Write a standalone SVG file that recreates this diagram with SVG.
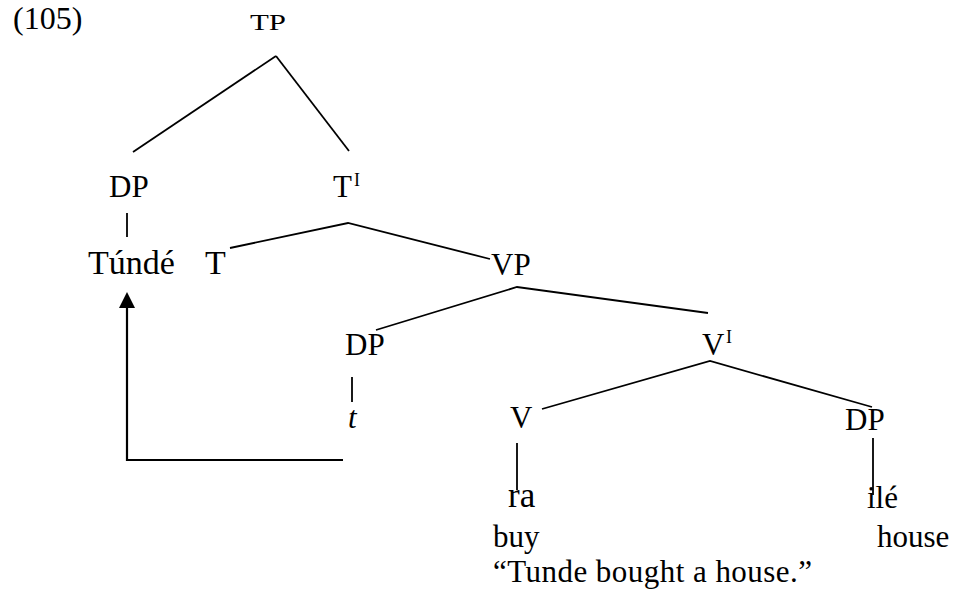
<svg xmlns="http://www.w3.org/2000/svg" width="956" height="592" viewBox="0 0 956 592">
<style>
text{font-family:"Liberation Serif","Times New Roman",serif;fill:#000;font-size:31px}
.sup{font-size:18px}
.big{font-size:34px}
.edge{stroke:#000;stroke-width:1.8;fill:none}
.mv{stroke:#000;stroke-width:2.2;fill:none}
</style>
<rect width="956" height="592" fill="#fff"/>
<g id="label"><text x="13" y="29" style="font-size:32px">(105)</text></g>
<g id="connectors">
<line class="edge" x1="276" y1="56" x2="133" y2="152"/>
<line class="edge" x1="276" y1="56" x2="349" y2="151"/>
<line class="edge" x1="127" y1="213" x2="127" y2="237"/>
<polyline class="edge" points="230,248 348,223 490,259"/>
<polyline class="edge" points="376,330 517,287 708,313"/>
<line class="edge" x1="352" y1="377" x2="352" y2="402"/>
<polyline class="edge" points="542,409 710,361 872,407"/>
<line class="edge" x1="517" y1="443" x2="517" y2="490"/>
<line class="edge" x1="873" y1="438" x2="873" y2="495"/>
<polyline class="mv" points="343,460 127,460 127,306"/>
<polygon points="127,292 119,308 135,308" fill="#000"/>
</g>
<g id="n-TP"><text x="250" y="30" textLength="36" lengthAdjust="spacingAndGlyphs" style="font-size:23px">TP</text></g>
<g id="n-DP1"><text x="109" y="197">DP</text></g>
<g id="n-Tbar"><text x="333" y="197">T</text><text class="sup" x="354" y="186">I</text></g>
<g id="n-Tunde"><text class="big" x="88" y="274">Túndé</text></g>
<g id="n-T"><text class="big" x="205" y="274">T</text></g>
<g id="n-VP"><text x="491" y="275">VP</text></g>
<g id="n-DP2"><text x="345" y="355">DP</text></g>
<g id="n-t"><text x="348" y="428" font-style="italic">t</text></g>
<g id="n-Vbar"><text x="702" y="355">V</text><text class="sup" x="726" y="343">I</text></g>
<g id="n-V"><text x="510" y="428">V</text></g>
<g id="n-DP3"><text x="845" y="430">DP</text></g>
<g id="n-ra"><text x="508" y="507" style="font-size:35px">ra</text></g>
<g id="n-ile"><text x="867" y="508">ilé</text></g>
<g id="gloss"><text x="493" y="547">buy</text><text x="877" y="547">house</text><text x="493" y="582" textLength="319">“Tunde bought a house.”</text></g>
</svg>
